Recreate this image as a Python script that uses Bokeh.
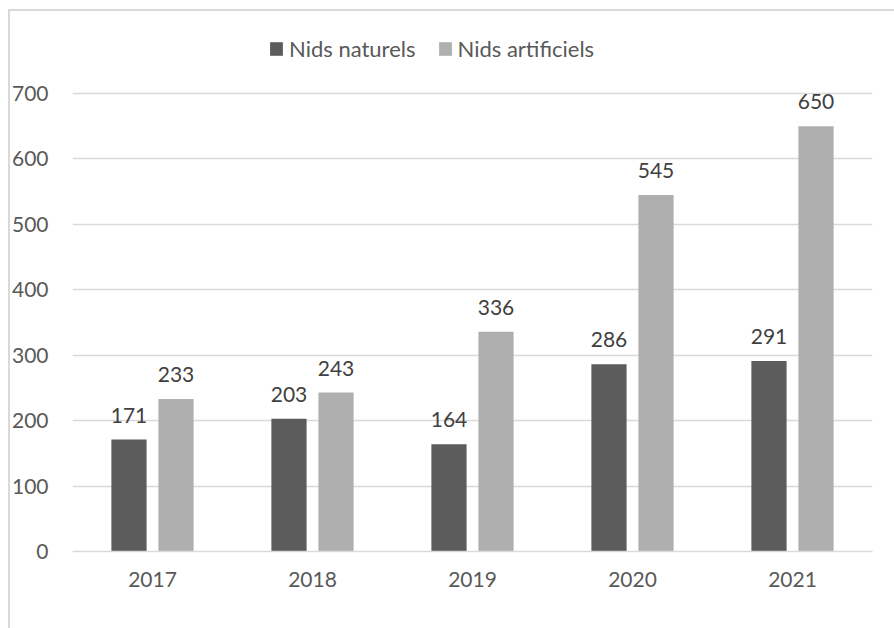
from bokeh.plotting import figure
from bokeh.models import (ColumnDataSource, FixedTicker, Legend, LegendItem, LabelSet,
                          InlineStyleSheet)
from bokeh.core.properties import value
from bokeh.transform import dodge
from bokeh.embed import file_html
from bokeh.resources import INLINE

years = ["2017", "2018", "2019", "2020", "2021"]
naturels = [171, 203, 164, 286, 291]
artificiels = [233, 243, 336, 545, 650]
y_ticks = [0, 100, 200, 300, 400, 500, 600, 700]

FONT = "Lato"
DARK = "#5c5c5c"
LIGHT = "#afafaf"
GRID = "#d9d9d9"

src = ColumnDataSource(dict(
    years=years,
    nat=naturels,
    art=artificiels,
    nat_txt=[str(v) for v in naturels],
    art_txt=[str(v) for v in artificiels],
))

# frame spans canvas y 20..551; value 700 lands at y=93
y_top = 700 + (93 - 20) * 700 / 458

p = figure(width=894, height=628, x_range=years, y_range=(0, y_top),
           output_backend="svg", toolbar_location=None,
           min_border_left=72, min_border_right=22,
           min_border_top=20, min_border_bottom=77)
p.x_range.range_padding = 0
p.outline_line_color = None
p.stylesheets = [InlineStyleSheet(css="""
:host { position: relative; overflow: hidden; }
:host::after { content: ""; position: absolute; left: 8px; top: 9px;
  right: -20px; bottom: -20px; border: 2px solid #d9d9d9;
  pointer-events: none; z-index: 100; }
""")]

r1 = p.vbar(x=dodge("years", -0.147, range=p.x_range), top="nat", width=0.22,
            source=src, fill_color=DARK, line_color=None)
r2 = p.vbar(x=dodge("years", 0.147, range=p.x_range), top="art", width=0.22,
            source=src, fill_color=LIGHT, line_color=None)

for col, txt, off in (("nat", "nat_txt", -0.147), ("art", "art_txt", 0.147)):
    p.add_layout(LabelSet(x=dodge("years", off, range=p.x_range), y=col, text=txt,
                          source=src, text_align="center", text_baseline="alphabetic",
                          y_offset=17, text_font=value(FONT), text_font_size="21px",
                          text_color="#404040"))

p.yaxis.ticker = FixedTicker(ticks=y_ticks)
p.yaxis.axis_line_color = None
p.yaxis.major_tick_line_color = None
p.yaxis.minor_tick_line_color = None
p.yaxis.major_label_standoff = 18
p.yaxis.major_label_text_font = FONT
p.yaxis.major_label_text_font_size = "21px"
p.yaxis.major_label_text_color = "#595959"

p.xaxis.axis_line_color = GRID
p.xaxis.axis_line_width = 1.5
p.xaxis.major_tick_line_color = None
p.xaxis.minor_tick_line_color = None
p.xaxis.major_label_standoff = 14
p.xaxis.major_label_text_font = FONT
p.xaxis.major_label_text_font_size = "21px"
p.xaxis.major_label_text_color = "#595959"

p.xgrid.grid_line_color = None
p.ygrid.grid_line_color = GRID
p.ygrid.grid_line_width = 1.5

legend = Legend(items=[LegendItem(label="Nids naturels", renderers=[r1]),
                       LegendItem(label="Nids artificiels", renderers=[r2])],
                orientation="horizontal", location=(196, 489),
                glyph_width=16, glyph_height=17, label_standoff=5, spacing=21,
                padding=0, margin=0, border_line_color=None,
                background_fill_alpha=0,
                label_text_font=FONT, label_text_font_size="22px",
                label_text_color="#595959")
p.add_layout(legend, "center")

open("out.html", "w").write(file_html(p, INLINE))
